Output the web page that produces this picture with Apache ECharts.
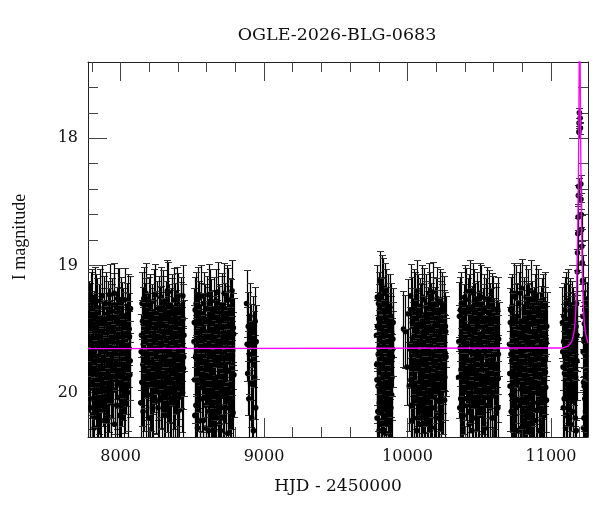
<!DOCTYPE html>
<html>
<head>
<meta charset="utf-8">
<script src="https://cdn.jsdelivr.net/npm/echarts@6/dist/echarts.min.js"></script>
<style>html,body{margin:0;padding:0;background:#fff}#c{width:600px;height:512px}</style>
</head>
<body>
<div id="c"></div>
<script>
// ---- data: [HJD-2450000, I mag, error] ----
var s1 = [[7778,19.55,.28],[7783,19.82,.33],[7786,19.40,.26],[7790,20.05,.36],[7794,19.68,.30],[7797,19.30,.25],[7801,19.95,.34],[7806,19.60,.29],[7809,20.18,.38],[7813,19.47,.27],[7818,19.75,.31],[7822,19.25,.24],[7825,19.88,.33],[7830,19.62,.29],[7834,20.10,.37],[7838,19.36,.26],[7842,19.71,.31],[7847,19.52,.28],[7850,19.98,.35],[7855,19.66,.30],[7859,19.28,.25],[7863,20.22,.39],[7867,19.80,.32],[7872,19.45,.27],[7876,19.92,.34],[7880,19.58,.29],[7885,19.33,.25],[7889,20.02,.36],[7893,19.70,.30],[7898,19.50,.28],[7902,19.85,.33],[7906,20.15,.38],[7910,19.38,.26],[7915,19.64,.30],[7919,19.96,.35],[7923,19.23,.24],[7928,19.77,.32],[7932,19.55,.28],[7936,20.08,.37],[7941,19.42,.27],[7945,19.68,.30],[7949,19.90,.34],[7954,19.31,.25],[7958,20.25,.39],[7962,19.60,.29],[7967,19.74,.31],[7971,19.48,.27],[7976,19.94,.35],[7980,19.26,.24],[7984,19.65,.30],[7989,20.04,.36],[7993,19.53,.28],[7997,19.83,.33],[8002,19.35,.26],[8006,20.12,.37],[8011,19.63,.29],[8015,19.45,.27],[8020,19.88,.34],[8024,19.70,.30],[8029,19.27,.25],[8033,19.97,.35],[8038,19.58,.28],[8042,19.79,.32],[8047,19.40,.26],[8051,20.00,.36],[8056,19.66,.30],[8060,19.50,.28],[8065,19.86,.33],[8069,19.34,.26]];
var s1b = [[7776,19.72,.31],[7781,19.38,.26],[7788,20.12,.37],[7792,19.58,.29],[7799,19.85,.33],[7804,19.28,.25],[7811,19.66,.30],[7816,20.28,.40],[7820,19.50,.28],[7828,19.93,.34],[7832,19.33,.26],[7840,20.00,.36],[7845,19.63,.29],[7852,19.42,.27],[7857,20.15,.38],[7865,19.70,.31],[7869,19.24,.24],[7874,19.82,.33],[7883,20.06,.36],[7887,19.55,.28],[7895,19.30,.25],[7900,19.90,.34],[7908,19.61,.29],[7912,20.20,.39],[7917,19.45,.27],[7925,19.76,.32],[7930,20.03,.36],[7938,19.36,.26],[7943,19.87,.33],[7951,19.57,.28],[7956,19.22,.24],[7960,19.98,.35],[7965,19.68,.30],[7973,20.10,.37],[7978,19.44,.27],[7986,19.80,.32],[7991,19.27,.25],[7995,20.18,.38],[8000,19.60,.29],[8008,19.92,.34],[8013,19.39,.26],[8018,19.73,.31],[8026,20.08,.37],[8031,19.48,.27],[8036,19.84,.33],[8044,19.62,.29],[8049,19.32,.25],[8054,19.95,.35],[8062,19.56,.28],[8067,19.75,.31]];
var s2 = [[8141,20.08,.36],[8146,19.55,.28],[8150,19.30,.25],[8155,19.78,.32],[8159,19.62,.29],[8164,19.95,.35],[8168,19.40,.26],[8173,19.70,.31],[8177,19.22,.24],[8182,19.86,.33],[8186,19.52,.28],[8191,20.02,.36],[8195,19.66,.30],[8200,19.35,.26],[8204,19.91,.34],[8209,19.58,.29],[8213,19.75,.31],[8218,19.45,.27],[8222,20.12,.38],[8227,19.63,.29],[8231,19.28,.25],[8236,19.82,.33],[8240,19.50,.28],[8245,19.97,.35],[8249,19.69,.30],[8254,19.38,.26],[8258,19.88,.34],[8263,19.60,.29],[8267,20.06,.37],[8272,19.44,.27],[8276,19.73,.31],[8281,19.25,.24],[8285,19.93,.35],[8290,19.56,.28],[8294,19.80,.32],[8299,19.33,.25],[8303,20.15,.38],[8308,19.67,.30],[8312,19.48,.27],[8317,19.85,.33],[8321,19.61,.29],[8326,19.20,.24],[8330,19.99,.36],[8335,19.72,.31],[8339,19.42,.27],[8344,19.90,.34],[8348,19.57,.28],[8353,20.04,.36],[8357,19.36,.26],[8362,19.77,.32],[8366,19.64,.30],[8371,19.27,.25],[8375,19.94,.35],[8380,19.53,.28],[8384,19.83,.33],[8389,19.46,.27],[8393,20.10,.37],[8398,19.68,.30],[8402,19.31,.25],[8407,19.87,.34],[8411,19.59,.29],[8416,19.74,.31],[8420,19.39,.26],[8425,19.96,.35],[8429,19.62,.29],[8434,19.24,.24],[8438,19.81,.32],[8442,19.55,.28]];
var s2b = [[8144,19.68,.30],[8148,19.92,.34],[8153,19.44,.27],[8157,20.15,.38],[8162,19.26,.25],[8166,19.80,.32],[8171,19.57,.28],[8175,20.02,.36],[8180,19.36,.26],[8184,19.73,.31],[8189,19.50,.28],[8193,19.88,.34],[8198,19.62,.29],[8202,20.20,.39],[8207,19.32,.25],[8211,19.95,.35],[8216,19.66,.30],[8220,19.41,.26],[8225,19.84,.33],[8229,20.08,.37],[8234,19.55,.28],[8238,19.23,.24],[8243,19.76,.32],[8247,19.98,.35],[8252,19.47,.27],[8256,19.70,.31],[8261,20.12,.37],[8265,19.34,.26],[8270,19.86,.33],[8274,19.60,.29],[8279,19.94,.35],[8283,19.43,.27],[8288,20.05,.36],[8292,19.67,.30],[8297,19.29,.25],[8301,19.82,.33],[8306,19.54,.28],[8310,20.18,.38],[8315,19.38,.26],[8319,19.75,.31],[8324,19.96,.35],[8328,19.52,.28],[8333,19.21,.24],[8337,19.89,.34],[8342,19.64,.30],[8346,20.10,.37],[8351,19.45,.27],[8355,19.78,.32],[8360,19.33,.26],[8364,19.99,.36],[8369,19.58,.29],[8373,19.71,.31],[8378,20.03,.36],[8382,19.40,.26],[8387,19.84,.33],[8391,19.61,.29],[8396,19.26,.25],[8400,19.92,.34],[8405,19.49,.27],[8409,20.14,.38],[8414,19.69,.30],[8418,19.35,.26],[8423,19.80,.32],[8427,19.56,.28],[8432,20.00,.36],[8436,19.42,.27],[8440,19.72,.31]];
var s3 = [[8512,19.60,.29],[8516,19.90,.34],[8520,19.35,.26],[8525,20.10,.37],[8529,19.70,.31],[8534,19.48,.27],[8538,19.95,.35],[8543,19.26,.25],[8547,19.80,.32],[8552,20.22,.39],[8556,19.58,.28],[8561,19.40,.26],[8565,19.87,.33],[8570,19.66,.30],[8574,20.05,.36],[8579,19.30,.25],[8583,19.75,.31],[8588,19.52,.28],[8592,20.28,.40],[8597,19.92,.34],[8601,19.44,.27],[8606,19.68,.30],[8610,20.15,.38],[8615,19.23,.24],[8619,19.83,.33],[8624,19.57,.28],[8628,20.00,.36],[8633,19.37,.26],[8637,19.72,.31],[8642,20.25,.39],[8646,19.62,.29],[8651,19.88,.34],[8655,19.46,.27],[8660,20.08,.37],[8664,19.28,.25],[8669,19.78,.32],[8673,19.55,.28],[8678,20.18,.38],[8682,19.94,.35],[8687,19.41,.26],[8691,19.65,.30],[8696,20.30,.40],[8700,19.85,.33],[8705,19.33,.25],[8709,19.71,.31],[8714,20.03,.36],[8718,19.50,.28],[8723,19.22,.24],[8727,19.90,.34],[8732,19.61,.29],[8736,20.12,.37],[8741,19.43,.27],[8745,19.76,.32],[8750,19.27,.25],[8754,19.97,.35],[8759,19.59,.29],[8763,19.36,.26],[8768,19.82,.33],[8772,20.06,.36],[8777,19.20,.24],[8781,19.67,.30],[8786,19.49,.27],[8790,19.86,.33]];
var s3b = [[8514,19.45,.27],[8518,20.18,.38],[8523,19.72,.31],[8527,19.30,.25],[8532,19.90,.34],[8536,20.28,.40],[8541,19.58,.29],[8545,19.38,.26],[8550,19.82,.33],[8554,20.05,.36],[8559,19.64,.30],[8563,19.24,.24],[8568,19.96,.35],[8572,19.50,.28],[8577,20.22,.39],[8581,19.70,.31],[8586,19.42,.27],[8590,19.86,.33],[8595,20.10,.37],[8599,19.34,.26],[8604,19.78,.32],[8608,19.56,.28],[8613,20.30,.40],[8617,19.66,.30],[8622,19.93,.34],[8626,19.28,.25],[8631,19.61,.29],[8635,20.14,.38],[8640,19.47,.27],[8644,19.80,.32],[8649,20.02,.36],[8653,19.35,.26],[8658,19.74,.31],[8662,20.25,.39],[8667,19.52,.28],[8671,19.88,.34],[8676,19.21,.24],[8680,19.68,.30],[8685,20.07,.37],[8689,19.43,.27],[8694,19.91,.34],[8698,19.60,.29],[8703,20.20,.39],[8707,19.31,.25],[8712,19.84,.33],[8716,19.57,.28],[8721,20.12,.37],[8725,19.40,.26],[8730,19.77,.32],[8734,19.98,.35],[8739,19.25,.25],[8743,19.65,.30],[8748,20.32,.40],[8752,19.48,.27],[8757,19.83,.33],[8761,20.04,.36],[8766,19.62,.29],[8770,19.37,.26],[8775,19.94,.35],[8779,19.71,.31],[8784,20.16,.38],[8788,19.54,.28]];
var s4 = [[8878,19.30,.26],[8882,19.62,.29],[8886,19.85,.33],[8890,19.48,.27],[8894,20.05,.36],[8898,19.70,.31],[8902,19.40,.26],[8906,19.93,.34],[8910,19.58,.28],[8914,20.20,.38],[8918,19.75,.31],[8922,19.52,.28],[8926,20.30,.40],[8930,19.66,.30],[8934,19.88,.33],[8938,19.44,.27],[8942,20.12,.37],[8945,19.60,.29]];
var s5 = [[9784,19.55,.28],[9787,19.90,.34],[9790,19.25,.25],[9793,20.15,.38],[9796,19.70,.31],[9799,19.42,.27],[9802,20.30,.40],[9805,19.82,.33],[9808,19.12,.23],[9811,19.63,.30],[9814,20.05,.36],[9817,19.35,.26],[9820,19.76,.32],[9823,20.22,.39],[9826,19.50,.28],[9829,19.95,.35],[9832,19.18,.24],[9835,19.68,.30],[9838,20.10,.37],[9841,19.45,.27],[9844,19.86,.33],[9847,20.32,.40],[9850,19.58,.29],[9853,19.28,.25],[9856,19.92,.34],[9859,19.72,.31],[9862,20.18,.38],[9865,19.40,.26],[9868,19.80,.32],[9871,19.62,.29],[9874,20.00,.36],[9877,19.33,.26],[9880,19.74,.31],[9884,20.12,.37],[9888,19.52,.28],[9892,19.88,.34],[9896,19.66,.30],[9900,19.45,.27]];
var s5b = [[9785,19.78,.32],[9788,20.20,.39],[9791,19.48,.27],[9795,19.95,.35],[9798,19.30,.25],[9801,19.65,.30],[9804,20.08,.37],[9807,19.40,.26],[9810,19.85,.33],[9813,20.25,.39],[9816,19.58,.29],[9819,19.15,.23],[9822,19.70,.31],[9825,20.12,.37],[9828,19.36,.26],[9831,19.88,.34],[9834,19.55,.28],[9837,20.30,.40],[9840,19.62,.29],[9843,19.22,.24],[9846,19.92,.34],[9849,19.74,.31],[9852,20.05,.36],[9855,19.44,.27],[9858,19.82,.33],[9861,19.60,.29],[9864,20.16,.38],[9867,19.32,.25],[9870,19.97,.35],[9873,19.68,.30],[9876,20.22,.39],[9879,19.50,.28],[9882,19.86,.33],[9886,19.40,.26],[9890,20.02,.36],[9894,19.72,.31],[9898,19.58,.29]];
var s6 = [[9972,19.50,.30],[9985,19.52,.29],[9996,19.80,.30],[10005,19.38,.27],[10012,19.95,.35],[10018,19.62,.29],[10022,19.24,.25],[10026,20.10,.37],[10030,19.72,.31],[10034,19.45,.27],[10038,19.88,.33],[10042,20.20,.39],[10046,19.56,.28],[10050,19.30,.25],[10054,19.78,.32],[10058,20.02,.36],[10062,19.66,.30],[10066,19.20,.24],[10070,19.92,.34],[10074,19.49,.27],[10078,20.15,.38],[10082,19.74,.31],[10086,19.36,.26],[10090,19.85,.33],[10094,19.60,.29],[10098,20.25,.39],[10102,19.42,.27],[10106,19.97,.35],[10110,19.68,.30],[10114,19.27,.25],[10118,20.07,.37],[10122,19.54,.28],[10126,19.82,.33],[10130,19.33,.26],[10134,20.18,.38],[10138,19.70,.31],[10142,19.47,.27],[10146,19.90,.34],[10150,19.22,.24],[10154,19.64,.30],[10158,20.04,.36],[10162,19.40,.26],[10166,19.79,.32],[10170,20.28,.40],[10174,19.58,.29],[10178,19.35,.26],[10182,19.94,.35],[10186,19.71,.31],[10190,20.12,.37],[10194,19.44,.27],[10198,19.86,.33],[10202,19.62,.29],[10206,19.26,.25],[10210,20.00,.36],[10214,19.53,.28],[10218,19.76,.32],[10222,20.16,.38],[10226,19.38,.26],[10230,19.89,.34],[10234,19.65,.30],[10238,19.30,.25],[10242,19.98,.35],[10246,19.57,.28],[10250,19.83,.33],[10254,19.46,.27],[10258,20.06,.37],[10262,19.69,.30],[10266,19.52,.28]];
var s6b = [[10020,19.66,.30],[10024,19.90,.34],[10028,19.35,.26],[10032,20.22,.39],[10036,19.58,.29],[10040,19.80,.32],[10044,19.28,.25],[10048,20.05,.36],[10052,19.70,.31],[10056,19.45,.27],[10060,19.94,.35],[10064,20.30,.40],[10068,19.55,.28],[10072,19.76,.32],[10076,19.32,.25],[10080,20.10,.37],[10084,19.63,.30],[10088,19.88,.34],[10092,19.40,.26],[10096,20.00,.36],[10100,19.72,.31],[10104,19.25,.25],[10108,19.84,.33],[10112,20.18,.38],[10116,19.52,.28],[10120,19.68,.30],[10124,20.08,.37],[10128,19.38,.26],[10132,19.92,.34],[10136,19.60,.29],[10140,20.24,.39],[10144,19.44,.27],[10148,19.78,.32],[10152,19.96,.35],[10156,19.30,.25],[10160,19.66,.30],[10164,20.12,.37],[10168,19.50,.28],[10172,19.86,.33],[10176,19.21,.24],[10180,19.74,.31],[10184,20.02,.36],[10188,19.56,.28],[10192,19.90,.34],[10196,19.36,.26],[10200,20.20,.39],[10204,19.70,.31],[10208,19.46,.27],[10212,19.82,.33],[10216,20.06,.37],[10220,19.62,.29],[10224,19.28,.25],[10228,19.95,.35],[10232,19.54,.28],[10236,20.14,.38],[10240,19.42,.27],[10244,19.77,.32],[10248,19.98,.35],[10252,19.34,.26],[10256,19.68,.30],[10260,19.88,.34],[10264,19.48,.27],[10268,19.72,.31]];
var s7 = [[10356,19.88,.32],[10362,19.40,.27],[10367,19.65,.30],[10371,20.05,.36],[10376,19.30,.25],[10380,19.78,.32],[10385,19.55,.28],[10389,20.18,.38],[10394,19.92,.34],[10398,19.25,.25],[10403,19.70,.31],[10407,19.48,.27],[10412,20.10,.37],[10416,19.84,.33],[10421,19.36,.26],[10425,19.62,.29],[10430,20.25,.39],[10434,19.20,.24],[10439,19.96,.35],[10443,19.58,.28],[10448,19.75,.32],[10452,19.43,.27],[10457,20.02,.36],[10461,19.67,.30],[10466,19.28,.25],[10470,19.90,.34],[10475,20.20,.38],[10479,19.52,.28],[10484,19.80,.32],[10488,19.38,.26],[10493,20.08,.37],[10497,19.64,.30],[10502,19.22,.24],[10506,19.86,.33],[10511,19.56,.28],[10515,20.14,.38],[10520,19.73,.31],[10524,19.45,.27],[10529,19.98,.35],[10533,19.33,.26],[10538,19.69,.30],[10542,20.28,.40],[10547,19.60,.29],[10551,19.82,.33],[10556,19.26,.25],[10560,20.04,.36],[10565,19.50,.28],[10569,19.77,.32],[10574,19.40,.26],[10578,20.12,.37],[10583,19.63,.30],[10587,19.93,.34],[10592,19.31,.25],[10596,19.71,.31],[10601,20.00,.36],[10605,19.54,.28],[10610,19.85,.33],[10614,19.44,.27],[10619,20.16,.38],[10623,19.66,.30],[10628,19.35,.26],[10632,19.89,.34],[10635,19.58,.29]];
var s7b = [[10358,19.60,.29],[10364,20.12,.37],[10369,19.35,.26],[10373,19.82,.33],[10378,19.55,.28],[10383,20.22,.39],[10387,19.72,.31],[10392,19.42,.27],[10396,19.98,.35],[10401,19.63,.30],[10405,19.27,.25],[10410,19.88,.34],[10414,20.05,.36],[10419,19.50,.28],[10423,19.76,.32],[10428,19.33,.26],[10432,20.15,.38],[10437,19.68,.30],[10441,19.90,.34],[10446,19.45,.27],[10450,20.30,.40],[10455,19.58,.29],[10459,19.22,.24],[10464,19.80,.32],[10468,20.08,.37],[10473,19.40,.26],[10477,19.70,.31],[10482,19.95,.35],[10486,19.30,.25],[10491,19.62,.29],[10495,20.18,.38],[10500,19.48,.27],[10504,19.85,.33],[10509,19.66,.30],[10513,19.25,.25],[10518,20.02,.36],[10522,19.56,.28],[10527,19.78,.32],[10531,20.24,.39],[10536,19.42,.27],[10540,19.92,.34],[10545,19.36,.26],[10549,19.70,.31],[10554,20.10,.37],[10558,19.52,.28],[10563,19.87,.33],[10567,19.29,.25],[10572,19.64,.30],[10576,20.06,.37],[10581,19.45,.27],[10585,19.80,.32],[10590,20.20,.38],[10594,19.58,.29],[10599,19.34,.26],[10603,19.94,.35],[10608,19.67,.30],[10612,20.03,.36],[10617,19.40,.26],[10621,19.78,.32],[10626,19.55,.28],[10630,20.12,.37],[10633,19.70,.31]];
var s8 = [[10711,19.62,.29],[10715,19.95,.35],[10719,19.35,.26],[10723,20.15,.38],[10727,19.75,.31],[10731,19.48,.27],[10735,20.25,.39],[10739,19.85,.33],[10743,19.22,.24],[10747,19.68,.30],[10751,20.05,.36],[10755,19.42,.27],[10759,19.90,.34],[10763,19.55,.28],[10767,20.30,.40],[10771,19.78,.32],[10775,19.30,.25],[10779,19.63,.30],[10783,20.10,.37],[10787,19.45,.27],[10791,19.97,.35],[10795,19.18,.23],[10799,19.72,.31],[10803,20.20,.39],[10807,19.58,.28],[10811,19.86,.33],[10815,19.38,.26],[10819,20.02,.36],[10823,19.66,.30],[10827,19.25,.25],[10831,19.93,.34],[10835,20.28,.40],[10839,19.52,.28],[10843,19.80,.32],[10847,19.40,.26],[10851,20.12,.37],[10855,19.70,.31],[10859,19.20,.24],[10863,19.88,.34],[10867,19.60,.29],[10871,20.18,.38],[10875,19.46,.27],[10879,19.76,.32],[10883,20.00,.36],[10887,19.33,.26],[10891,19.64,.30],[10895,20.22,.39],[10899,19.91,.34],[10903,19.50,.28],[10907,19.28,.25],[10911,19.82,.33],[10915,20.07,.37],[10919,19.57,.28],[10923,19.74,.31],[10927,19.43,.27],[10931,20.14,.38],[10935,19.87,.34],[10939,19.36,.26],[10943,19.67,.30],[10947,20.04,.36],[10951,19.53,.28],[10955,19.79,.32],[10959,19.30,.25],[10963,19.96,.35],[10967,19.61,.29],[10970,19.48,.27]];
var s8b = [[10713,19.85,.33],[10717,19.45,.27],[10721,19.70,.31],[10725,20.02,.36],[10729,19.32,.25],[10733,19.60,.29],[10737,19.96,.35],[10741,20.20,.39],[10745,19.50,.28],[10749,19.80,.32],[10753,19.25,.25],[10757,20.12,.37],[10761,19.66,.30],[10765,19.40,.26],[10769,19.90,.34],[10773,20.06,.36],[10777,19.55,.28],[10781,19.84,.33],[10785,19.22,.24],[10789,19.72,.31],[10793,20.28,.40],[10797,19.46,.27],[10801,19.94,.35],[10805,19.62,.29],[10809,20.10,.37],[10813,19.35,.26],[10817,19.78,.32],[10821,19.56,.28],[10825,20.16,.38],[10829,19.70,.31],[10833,19.42,.27],[10837,19.98,.35],[10841,19.28,.25],[10845,19.64,.30],[10849,20.04,.36],[10853,19.52,.28],[10857,19.88,.34],[10861,20.24,.39],[10865,19.38,.26],[10869,19.75,.32],[10873,19.58,.29],[10877,20.08,.37],[10881,19.44,.27],[10885,19.92,.34],[10889,19.68,.30],[10893,19.24,.24],[10897,19.82,.33],[10901,20.14,.38],[10905,19.60,.29],[10909,19.36,.26],[10913,19.96,.35],[10917,19.72,.31],[10921,20.30,.40],[10925,19.48,.27],[10929,19.86,.33],[10933,19.55,.28],[10937,20.00,.36],[10941,19.32,.25],[10945,19.78,.32],[10949,19.64,.30],[10953,20.18,.38],[10957,19.44,.27],[10961,19.84,.33],[10965,19.58,.29],[10968,20.06,.36]];
var s9 = [[11080,19.45,.28],[11084,19.80,.33],[11088,19.60,.30],[11092,20.05,.36],[11096,19.35,.26],[11100,19.72,.31],[11104,20.18,.38],[11108,19.52,.28],[11112,19.90,.34],[11116,19.28,.25],[11120,19.66,.30],[11124,20.10,.37],[11128,19.42,.27],[11132,19.84,.33],[11136,20.25,.39],[11140,19.58,.29],[11144,19.76,.32],[11148,19.38,.26],[11152,20.00,.36],[11156,19.64,.30],[11162,19.50,.28],[11166,19.92,.34],[11170,20.20,.38],[11174,19.48,.28],[11178,19.30,.26],[11181,19.75,.31],[11184,19.05,.18],[11185,18.90,.15],[11187,18.75,.12],[11189,18.62,.10],[11191,18.45,.08],[11192,18.38,.07],[11195,17.95,.05],[11196,17.88,.04],[11198,17.80,.04],[11203,17.84,.04],[11205,17.92,.05],[11208,18.36,.07],[11209,18.48,.08],[11211,18.60,.10],[11213,18.72,.12],[11215,18.85,.14],[11217,18.98,.17],[11220,19.12,.20],[11223,19.40,.26],[11226,20.28,.40],[11229,19.58,.29],[11232,19.95,.35],[11235,19.35,.26],[11238,19.70,.31],[11241,20.15,.38],[11244,19.52,.28],[11247,19.88,.34],[11250,19.40,.27],[11253,19.75,.31],[11256,20.08,.37]];
var s9b = [[11082,19.68,.30],[11086,20.12,.37],[11090,19.40,.26],[11094,19.85,.33],[11098,19.55,.28],[11102,20.28,.40],[11106,19.30,.25],[11110,19.76,.32],[11114,20.02,.36],[11118,19.48,.27],[11122,19.92,.34],[11126,19.62,.29],[11130,20.20,.39],[11134,19.36,.26],[11138,19.82,.33],[11142,19.95,.35],[11146,19.52,.28],[11150,20.15,.38],[11154,19.44,.27],[11158,19.78,.32],[11164,20.06,.36],[11168,19.60,.29],[11172,19.88,.34],[11176,20.30,.40],[11180,19.55,.28],[11224,19.68,.30],[11227,19.92,.34],[11230,20.20,.39],[11233,19.46,.27],[11236,20.05,.36],[11239,19.60,.29],[11242,19.84,.33],[11245,20.30,.40],[11248,19.55,.28],[11251,19.96,.35],[11254,20.18,.38],[11257,19.62,.29]];

// model curve
var modelT = [7773, 11080, 11120, 11145, 11160, 11168, 11175, 11180, 11184, 11188, 11191, 11194, 11196, 11198, 11200, 11202, 11204, 11206, 11209, 11212, 11216, 11220, 11225, 11232, 11240, 11255, 11258];
var modelM = [19.654, 19.65, 19.635, 19.60, 19.53, 19.45, 19.30, 19.10, 18.88, 18.60, 18.30, 17.90, 17.50, 17.10, 16.60, 17.10, 17.50, 17.90, 18.30, 18.60, 18.88, 19.10, 19.30, 19.45, 19.53, 19.60, 19.61];

// axis ticks
var xMajor = [8000, 9000, 10000, 11000];
var xMinor = [7800, 8200, 8400, 8600, 8800, 9200, 9400, 9600, 9800, 10200, 10400, 10600, 10800, 11200];
var yMajor = [18, 19, 20];
var yMinor = [17.6, 17.8, 18.2, 18.4, 18.6, 18.8, 19.2, 19.4, 19.6, 19.8, 20.2];

var titleText = 'OGLE-2026-BLG-0683';
var xName = 'HJD - 2450000';
var yName = 'I magnitude';

var X_MIN = 7773, X_MAX = 11258, Y_MIN = 17.4, Y_MAX = 20.35;

var points = [].concat(s1, s1b, s2, s2b, s3, s3b, s4, s5, s5b, s6, s6b, s7, s7b, s8, s8b, s9, s9b);
var model = modelT.map(function (t, i) { return [t, modelM[i]]; });

var FONT = 'DejaVu Serif';
var AX = '#222';
function plain(v) { return String(v); }

function xAx(pos, ticks, len, lab, line) {
  return {
    type: 'value', min: X_MIN, max: X_MAX, position: pos,
    axisLine: { show: line, onZero: false, lineStyle: { color: AX, width: 1 } },
    axisTick: { show: true, inside: true, length: len, customValues: ticks, lineStyle: { color: '#444', width: 1 } },
    axisLabel: lab ? { show: true, customValues: ticks, formatter: plain, fontFamily: FONT, fontSize: 16, color: '#111', margin: 12 } : { show: false },
    splitLine: { show: false }, minorTick: { show: false }
  };
}
function yAx(pos, ticks, len, lab, line) {
  return {
    type: 'value', min: Y_MIN, max: Y_MAX, inverse: true, position: pos,
    axisLine: { show: line, onZero: false, lineStyle: { color: AX, width: 1 } },
    axisTick: { show: true, inside: true, length: len, customValues: ticks, lineStyle: { color: '#444', width: 1 } },
    axisLabel: lab ? { show: true, customValues: ticks, formatter: plain, fontFamily: FONT, fontSize: 16, color: '#111', margin: 10 } : { show: false },
    splitLine: { show: false }, minorTick: { show: false }
  };
}

var xAxes = [xAx('bottom', xMajor, 19, true, true), xAx('bottom', xMinor, 10, false, false),
             xAx('top', xMajor, 19, false, true), xAx('top', xMinor, 10, false, false)];
xAxes[0].name = xName;
xAxes[0].nameLocation = 'middle';
xAxes[0].nameGap = 41;
xAxes[0].nameTextStyle = { fontFamily: FONT, fontSize: 17, color: '#111' };

var yAxes = [yAx('left', yMajor, 19, true, true), yAx('left', yMinor, 10, false, false),
             yAx('right', yMajor, 19, false, true), yAx('right', yMinor, 10, false, false)];

var chart = echarts.init(document.getElementById('c'), null, { renderer: 'canvas' });
chart.setOption({
  animation: false,
  backgroundColor: '#fff',
  title: { text: titleText, left: 332, top: 21, textAlign: 'center',
    textStyle: { fontFamily: FONT, fontSize: 17.5, fontWeight: 'normal', color: '#111' } },
  grid: { left: 88, right: 12, top: 62, bottom: 75, containLabel: false, outerBoundsMode: 'none' },
  xAxis: xAxes,
  yAxis: yAxes,
  graphic: [{ type: 'text', x: 20, y: 237, rotation: Math.PI / 2,
    style: { text: yName, font: '18px "Liberation Serif"', fill: '#111', align: 'center', verticalAlign: 'middle' } }],
  series: [
    {
      type: 'custom', name: 'data', xAxisIndex: 0, yAxisIndex: 0, clip: true, z: 2,
      data: points, encode: { x: 0, y: 1 },
      renderItem: function (params, api) {
        var t = api.value(0), m = api.value(1), e = api.value(2);
        var c = api.coord([t, m]);
        var hi = api.coord([t, m - e]);
        var lo = api.coord([t, m + e]);
        var x = Math.round(c[0]) + 0.5;
        var y1 = Math.round(hi[1]) + 0.5, y2 = Math.round(lo[1]) + 0.5;
        var w = 3.5;
        return {
          type: 'group',
          children: [
            { type: 'line', shape: { x1: x, y1: y1, x2: x, y2: y2 }, style: { stroke: '#000', lineWidth: 1.2 } },
            { type: 'line', shape: { x1: x - w, y1: y1, x2: x + w, y2: y1 }, style: { stroke: '#333', lineWidth: 1 } },
            { type: 'line', shape: { x1: x - w, y1: y2, x2: x + w, y2: y2 }, style: { stroke: '#333', lineWidth: 1 } },
            { type: 'circle', shape: { cx: c[0], cy: c[1], r: 2.8 }, style: { fill: '#000' } }
          ]
        };
      }
    },
    {
      type: 'line', name: 'model', xAxisIndex: 0, yAxisIndex: 0, data: model, clip: true,
      showSymbol: false, symbol: 'none', smooth: false, z: 5,
      lineStyle: { color: '#ff00ff', width: 1.3 }
    }
  ]
});
</script>
</body>
</html>
